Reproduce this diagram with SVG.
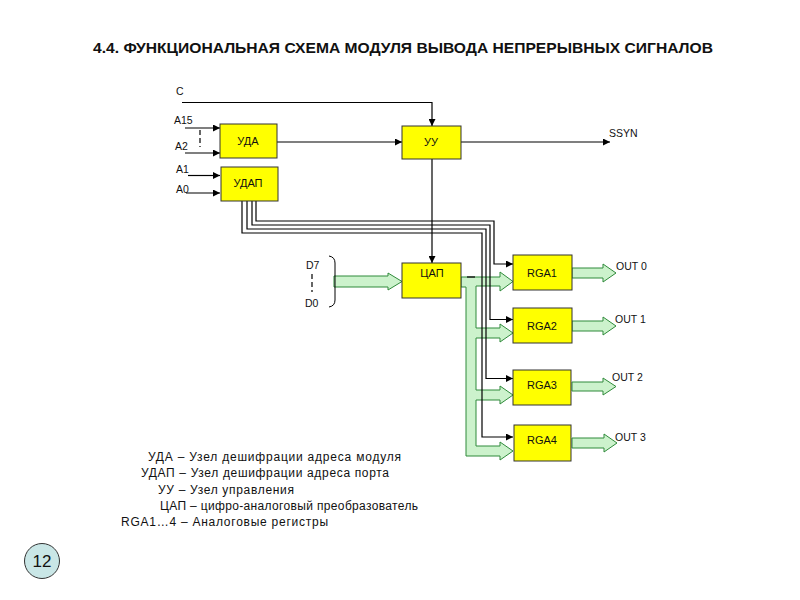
<svg xmlns="http://www.w3.org/2000/svg" width="800" height="600" viewBox="0 0 800 600">
<style>
text{font-family:"Liberation Sans",Arial,sans-serif;fill:#111}
.box{fill:#ffff00;stroke:#333;stroke-width:1}
.bl{font-size:11px;text-anchor:middle}
.lb{font-size:10.5px}
.ln{fill:none;stroke:#000;stroke-width:1.2}
.gr{fill:#ccf2cc;stroke:#2f8a3a;stroke-width:1}
.lg{font-size:12px}
.dash{stroke:#000;stroke-width:1.2;stroke-dasharray:5,3}
</style>
<defs>
<marker id="ah" viewBox="0 0 8 8" refX="8" refY="4" markerWidth="7" markerHeight="7" markerUnits="userSpaceOnUse" orient="auto">
<path d="M0,0 L8,4 L0,8 Z" fill="#000"/>
</marker>
</defs>
<rect width="800" height="600" fill="#fff"/>
<text x="93" y="53" font-size="15" font-weight="bold" textLength="620" lengthAdjust="spacingAndGlyphs">4.4. ФУНКЦИОНАЛЬНАЯ СХЕМА МОДУЛЯ ВЫВОДА НЕПРЕРЫВНЫХ СИГНАЛОВ</text>

<g id="buses">
<path class="gr" d="M334,276 L388,276 L388,273 L402,281.5 L388,290 L388,287 L334,287 Z"/>
<path class="gr" d="M461,277 L500,277 L500,272 L513,281.5 L500,291 L500,286 L476,286 L476,328 L500,328 L500,324 L513,333 L500,342 L500,338 L476,338 L476,390 L500,390 L500,386 L513,395 L500,404 L500,400 L476,400 L476,446 L500,446 L500,442 L513,451 L500,460 L500,456 L466,456 L466,287 L461,287 Z"/>
<line x1="467" y1="277" x2="475" y2="277" stroke="#222" stroke-width="1.5"/>
<path class="gr" d="M572,268 L603,268 L603,264 L616,273 L603,282 L603,278 L572,278 Z"/>
<path class="gr" d="M572,321 L603,321 L603,317 L616,326 L603,335 L603,331 L572,331 Z"/>
<path class="gr" d="M572,382 L603,382 L603,378 L616,386.5 L603,395 L603,391 L572,391 Z"/>
<path class="gr" d="M572,438 L604,438 L604,434 L617,443 L604,452 L604,448 L572,448 Z"/>
</g>

<g id="connectors">
<path class="ln" d="M182,102.5 L432,102.5 L432,126" marker-end="url(#ah)"/>
<path class="ln" d="M185,128 L220,128" marker-end="url(#ah)"/>
<path class="ln" d="M185,153 L220,153" marker-end="url(#ah)"/>
<path class="ln" d="M188,175.5 L220,175.5" marker-end="url(#ah)"/>
<path class="ln" d="M186,193 L220,193" marker-end="url(#ah)"/>
<line class="dash" x1="200" y1="130" x2="200" y2="147"/>
<path class="ln" d="M277,142 L402,142" marker-end="url(#ah)"/>
<path class="ln" d="M461,142 L610,142" marker-end="url(#ah)"/>
<path class="ln" d="M432,159 L432,263" marker-end="url(#ah)"/>
<path class="ln" d="M256,201 L256,221 L494,221 L494,264 L513,264" marker-end="url(#ah)"/>
<path class="ln" d="M252,201 L252,225 L490,225 L490,319.5 L513,319.5" marker-end="url(#ah)"/>
<path class="ln" d="M247,201 L247,229 L486,229 L486,378.5 L513,378.5" marker-end="url(#ah)"/>
<path class="ln" d="M242,201 L242,233 L482,233 L482,437 L513,437" marker-end="url(#ah)"/>
<line class="dash" x1="312" y1="274" x2="312" y2="292"/>
<path d="M329,256 Q335,257 335,263 L335,300 Q335,306 329,307" fill="none" stroke="#000" stroke-width="1"/>
</g>

<g id="labels">
<text class="lb" x="176" y="95">C</text>
<text class="lb" x="174" y="124">A15</text>
<text class="lb" x="175" y="150">A2</text>
<text class="lb" x="176" y="173">A1</text>
<text class="lb" x="176" y="193">A0</text>
<text class="lb" x="609" y="137">SSYN</text>
<text class="lb" x="306" y="269">D7</text>
<text class="lb" x="305" y="307">D0</text>
<text class="lb" x="616" y="270">OUT 0</text>
<text class="lb" x="615" y="323">OUT 1</text>
<text class="lb" x="612" y="381">OUT 2</text>
<text class="lb" x="615" y="441">OUT 3</text>
</g>

<g id="uda"><rect class="box" x="220" y="124" width="57" height="34"/><text class="bl" x="248" y="145">УДА</text></g>
<g id="udap"><rect class="box" x="221" y="167" width="57" height="34"/><text class="bl" x="248" y="187">УДАП</text></g>
<g id="uu"><rect class="box" x="402" y="126" width="59" height="33"/><text class="bl" x="431" y="146">УУ</text></g>
<g id="cap"><rect class="box" x="402" y="263" width="59" height="35"/><text class="bl" x="432" y="277">ЦАП</text></g>
<g id="rga1"><rect class="box" x="513" y="255" width="59" height="35"/><text class="bl" x="542" y="277">RGA1</text></g>
<g id="rga2"><rect class="box" x="513" y="308" width="59" height="35"/><text class="bl" x="542" y="330">RGA2</text></g>
<g id="rga3"><rect class="box" x="513" y="370" width="58" height="35"/><text class="bl" x="542" y="389">RGA3</text></g>
<g id="rga4"><rect class="box" x="514" y="425" width="57" height="36"/><text class="bl" x="542" y="444">RGA4</text></g>

<g id="legend">
<text class="lg" x="148" y="461" textLength="253" lengthAdjust="spacing">УДА – Узел  дешифрации адреса модуля</text>
<text class="lg" x="141" y="477" textLength="248" lengthAdjust="spacing">УДАП – Узел дешифрации адреса порта</text>
<text class="lg" x="158" y="494" textLength="136" lengthAdjust="spacing">УУ – Узел управления</text>
<text class="lg" x="160" y="510" textLength="258" lengthAdjust="spacing">ЦАП – цифро-аналоговый преобразователь</text>
<text class="lg" x="121" y="526" textLength="207" lengthAdjust="spacing">RGA1…4 – Аналоговые регистры</text>
</g>

<g id="page">
<circle cx="42" cy="561" r="17.5" fill="#c9e6e6" stroke="#333" stroke-width="1"/>
<text x="42" y="567" font-size="17" text-anchor="middle">12</text>
</g>
</svg>
